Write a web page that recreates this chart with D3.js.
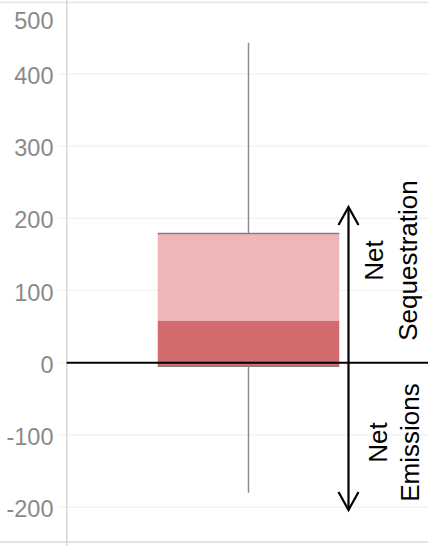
<!DOCTYPE html>
<html><head><meta charset="utf-8">
<script src="https://cdn.jsdelivr.net/npm/d3@7"></script>
<style>html,body{margin:0;padding:0;background:#fff;}svg{display:block;}</style>
</head><body>
<svg id="c" width="428" height="546"></svg>
<script>
const categories = ["All"];
const lowerWhisker = [-180];
const lowerQuartile = [-5];
const medianValue = [58];
const upperQuartile = [179];
const upperWhisker = [443];
const tickValues = [-200, -100, 0, 100, 200, 300, 400, 500];
const annotationTop = ["Net", "Sequestration"];
const annotationBottom = ["Net", "Emissions"];

const W = 428, H = 546;
const svg = d3.select("#c");
const y = d3.scaleLinear().domain([-250, 500]).range([543.2, 1.7]);
const x = d3.scaleBand().domain(categories).range([67, 430]).paddingOuter(0.5).paddingInner(0);

// borders
svg.append("line").attr("x1",0).attr("x2",W).attr("y1",2.5).attr("y2",2.5).attr("stroke","#e4e4e4").attr("stroke-width",1.5);
svg.append("line").attr("x1",0).attr("x2",W).attr("y1",542).attr("y2",542).attr("stroke","#d9d9d9").attr("stroke-width",1.5);

// gridlines
svg.append("g").selectAll("line").data(tickValues.filter(v=>v!==500 && v!==0)).join("line")
  .attr("x1",58).attr("x2",W).attr("y1",d=>y(d)).attr("y2",d=>y(d))
  .attr("stroke","#f0f0f0").attr("stroke-width",1.2);
svg.append("line").attr("x1",58).attr("x2",67).attr("y1",y(0)).attr("y2",y(0)).attr("stroke","#f0f0f0").attr("stroke-width",1.2);

// labels
svg.append("g").selectAll("text").data(tickValues).join("text")
  .attr("x",53.5)
  .attr("y",d=> d===500 ? 28.5 : y(d)+10)
  .attr("text-anchor","end")
  .attr("font-family","Liberation Sans, Arial, sans-serif")
  .attr("font-size",23.5)
  .attr("fill","#8a8a8a")
  .text(d=>d);

// y axis line
svg.append("line").attr("x1",66.7).attr("x2",66.7).attr("y1",0).attr("y2",H).attr("stroke","#d6d6d6").attr("stroke-width",1.5);

// whiskers
const cx = d => x(d) + x.bandwidth()/2;
const g = svg.append("g").selectAll("g").data(categories).join("g");
g.append("line").attr("x1",cx).attr("x2",cx).attr("y1",(d,i)=>y(upperWhisker[i])).attr("y2",(d,i)=>y(upperQuartile[i]))
  .attr("stroke","#8c8c8c").attr("stroke-width",1.5);
g.append("line").attr("x1",cx).attr("x2",cx).attr("y1",(d,i)=>y(lowerQuartile[i])).attr("y2",(d,i)=>y(lowerWhisker[i]))
  .attr("stroke","#8c8c8c").attr("stroke-width",1.5);

// box segments
g.append("rect").attr("x",d=>x(d)).attr("width",x.bandwidth())
  .attr("y",(d,i)=>y(upperQuartile[i])).attr("height",(d,i)=>y(medianValue[i])-y(upperQuartile[i]))
  .attr("fill","#eeb6b7");
g.append("rect").attr("x",d=>x(d)).attr("width",x.bandwidth())
  .attr("y",(d,i)=>y(medianValue[i])).attr("height",(d,i)=>y(lowerQuartile[i])-y(medianValue[i]))
  .attr("fill","#d16b6e");
g.append("line").attr("x1",d=>x(d)).attr("x2",d=>x(d)+x.bandwidth())
  .attr("y1",(d,i)=>y(upperQuartile[i])).attr("y2",(d,i)=>y(upperQuartile[i]))
  .attr("stroke","#7f7f7f").attr("stroke-width",1.5);
g.append("line").attr("x1",d=>x(d)).attr("x2",d=>x(d)+x.bandwidth())
  .attr("y1",(d,i)=>y(lowerQuartile[i])).attr("y2",(d,i)=>y(lowerQuartile[i]))
  .attr("stroke","#8a7f80").attr("stroke-width",1.5);

// zero line
svg.append("line").attr("x1",66.7).attr("x2",W).attr("y1",y(0)).attr("y2",y(0)).attr("stroke","#000").attr("stroke-width",2);

// double arrow
const ax = 348.5, aTop = 207, aBot = 510;
svg.append("line").attr("x1",ax).attr("x2",ax).attr("y1",aTop).attr("y2",aBot).attr("stroke","#000").attr("stroke-width",2.2);
svg.append("path").attr("d",`M${ax-10},${aTop+18}L${ax},${aTop}L${ax+10},${aTop+18}`).attr("fill","none").attr("stroke","#000").attr("stroke-width",2.2);
svg.append("path").attr("d",`M${ax-10},${aBot-18}L${ax},${aBot}L${ax+10},${aBot-18}`).attr("fill","none").attr("stroke","#000").attr("stroke-width",2.2);

// annotations
function anno(lines, cy, baselines){
  lines.forEach((t,i)=>{
    svg.append("text")
      .attr("transform",`translate(${baselines[i]},${cy}) rotate(-90)`)
      .attr("text-anchor","middle")
      .attr("font-family","Liberation Sans, Arial, sans-serif")
      .attr("font-size",26)
      .attr("fill","#000")
      .text(t);
  });
}
anno(annotationTop, 260.5, [382.7, 416.7]);
anno(annotationBottom, 442.5, [386.7, 419]);
</script>
</body></html>
